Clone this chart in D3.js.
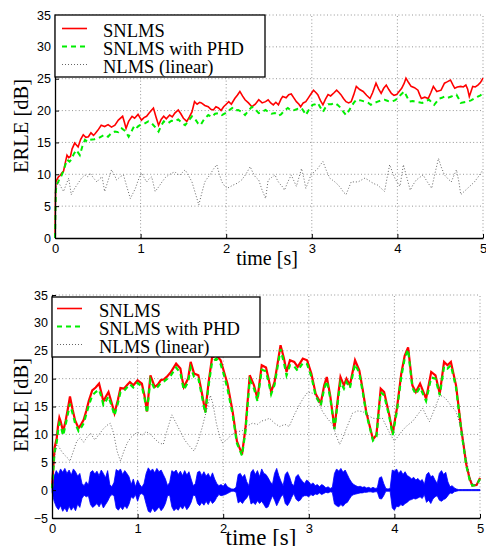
<!DOCTYPE html>
<html><head><meta charset="utf-8">
<script src="https://cdn.jsdelivr.net/npm/d3@7"></script>
<style>
html,body{margin:0;padding:0;background:#fff;}
svg{display:block;}
.tick text{font-family:"Liberation Sans",Arial,sans-serif;}
</style></head>
<body>
<svg id="c" width="486" height="546"></svg>
<script>
// ---------- DATA ----------
const xTicks = [0,1,2,3,4,5];
const yTicksTop = [0,5,10,15,20,25,30,35];
const yTicksBottom = [-5,0,5,10,15,20,25,30,35];
const legendLabels = ["SNLMS","SNLMS with PHD","NLMS (linear)"];
const xLabel = "time [s]";
const yLabel = "ERLE [dB]";

// Top plot: [time s, ERLE dB]
const topSNLMS = [[0,0],[0.005,6],[0.01,8.8],[0.02,9.1],[0.04,9.6],[0.06,9.8],[0.08,10.2],[0.1,10.5],[0.12,11.8],[0.14,13],[0.16,12.6],[0.18,12.8],[0.2,14],[0.23,14.9],[0.25,14.6],[0.27,14.3],[0.3,15.5],[0.33,16.2],[0.36,15.8],[0.39,15.9],[0.42,16.5],[0.45,16.1],[0.47,16.4],[0.5,16.9],[0.54,17.7],[0.58,17.5],[0.62,17.8],[0.66,17.4],[0.7,17.7],[0.74,18.5],[0.79,19.1],[0.81,18.2],[0.83,17.2],[0.86,18.3],[0.9,19.1],[0.93,18.8],[0.97,19.4],[1.01,18.5],[1.04,18.9],[1.07,19.1],[1.1,19.6],[1.13,20.1],[1.15,20.4],[1.18,19.0],[1.21,17.7],[1.24,18.6],[1.27,19.1],[1.3,18.7],[1.34,19.3],[1.37,19.0],[1.4,19.6],[1.44,20.1],[1.47,19.5],[1.5,18.8],[1.54,18.3],[1.57,19.0],[1.6,19.8],[1.63,21.4],[1.66,21.0],[1.69,21.3],[1.71,21.2],[1.75,20.8],[1.79,20.6],[1.82,20.2],[1.85,20.1],[1.88,20.6],[1.91,20.4],[1.94,20.0],[1.97,20.6],[2.0,21.0],[2.03,21.4],[2.06,21.0],[2.1,21.9],[2.13,22.4],[2.16,23],[2.19,22.3],[2.22,21.7],[2.26,21.2],[2.3,20.6],[2.34,21.0],[2.38,21.7],[2.42,21.2],[2.46,21.4],[2.49,21.7],[2.52,21.2],[2.55,20.9],[2.58,21.3],[2.61,20.9],[2.64,21.8],[2.66,22.2],[2.7,22.0],[2.73,22.5],[2.76,22.6],[2.79,22.0],[2.82,21.4],[2.85,21.0],[2.87,20.6],[2.9,21.2],[2.93,21.4],[2.96,22.0],[2.99,22.6],[3.02,23.2],[3.05,22.8],[3.07,22.5],[3.1,21.6],[3.13,20.9],[3.16,21.8],[3.19,22.5],[3.22,22.3],[3.26,22.8],[3.29,23.2],[3.32,22.8],[3.34,22.5],[3.37,21.9],[3.4,21.4],[3.43,21.2],[3.46,21.4],[3.49,22.5],[3.52,23.8],[3.56,23.3],[3.6,23.0],[3.64,22.4],[3.68,21.9],[3.71,22.8],[3.75,24.3],[3.78,23.4],[3.81,22.7],[3.84,23.5],[3.87,24.0],[3.9,23.3],[3.93,22.7],[3.96,22.4],[3.99,22.5],[4.02,23.0],[4.05,23.5],[4.08,24.3],[4.1,25.1],[4.13,24.4],[4.16,23.8],[4.2,23.6],[4.24,23.2],[4.26,22.5],[4.28,21.9],[4.32,22.1],[4.36,21.9],[4.39,22.8],[4.42,23.8],[4.46,23.0],[4.51,23.2],[4.55,24.3],[4.58,24.5],[4.62,24.8],[4.65,24.0],[4.67,23.5],[4.7,23.7],[4.74,23.8],[4.77,23.7],[4.8,24.0],[4.82,23.4],[4.84,22.2],[4.86,23.0],[4.88,23.8],[4.91,23.7],[4.94,24.0],[4.97,24.4],[5.0,25.1]];
const topPHD = [[0,0],[0.01,7.5],[0.02,8.3],[0.05,9.2],[0.08,9.9],[0.11,11.0],[0.14,12.3],[0.17,12.0],[0.19,12.3],[0.22,13.2],[0.25,13.8],[0.29,13.0],[0.32,14.4],[0.35,15.4],[0.38,15.1],[0.41,15.4],[0.46,15.5],[0.51,15.7],[0.55,16.0],[0.58,16.2],[0.62,15.9],[0.66,16.5],[0.7,16.7],[0.74,16.6],[0.78,17.2],[0.82,16.8],[0.86,15.9],[0.9,16.9],[0.93,17.7],[0.96,17.4],[0.99,17.7],[1.04,17.9],[1.09,18.3],[1.13,18.0],[1.17,17.4],[1.21,16.7],[1.24,17.6],[1.27,18.3],[1.32,18.0],[1.36,18.4],[1.4,18.3],[1.44,18.6],[1.48,18.1],[1.52,17.7],[1.56,18.4],[1.6,19.1],[1.64,18.6],[1.67,18.0],[1.7,17.7],[1.74,18.6],[1.79,19.3],[1.83,19.0],[1.87,19.5],[1.91,19.6],[1.95,19.3],[1.99,19.6],[2.03,20.0],[2.07,20.4],[2.1,20.0],[2.14,20.1],[2.18,19.8],[2.22,19.3],[2.26,20.0],[2.3,20.6],[2.34,20.2],[2.38,19.6],[2.42,19.8],[2.46,20.1],[2.49,19.8],[2.53,19.5],[2.57,19.6],[2.61,19.2],[2.64,19.4],[2.68,20.0],[2.72,20.4],[2.76,20.0],[2.8,20.1],[2.84,20.3],[2.88,20.4],[2.91,19.8],[2.93,19.3],[2.97,20.2],[3.01,20.9],[3.04,21.0],[3.07,21.2],[3.1,20.5],[3.13,19.8],[3.16,20.5],[3.19,21.0],[3.23,21.0],[3.27,21.2],[3.3,20.9],[3.34,20.4],[3.37,19.8],[3.4,19.3],[3.43,19.9],[3.46,20.6],[3.49,21.2],[3.52,21.7],[3.57,21.6],[3.62,21.4],[3.66,21.2],[3.69,20.9],[3.73,21.2],[3.77,21.4],[3.81,21.6],[3.85,21.7],[3.89,21.5],[3.93,21.4],[3.97,21.6],[4.0,21.9],[4.04,22.5],[4.08,23.0],[4.11,22.2],[4.14,21.4],[4.18,21.5],[4.21,21.4],[4.25,21.3],[4.29,21.2],[4.33,21.5],[4.37,21.7],[4.4,21.3],[4.43,20.9],[4.46,21.4],[4.49,21.9],[4.52,22.0],[4.55,22.2],[4.59,22.0],[4.63,22.2],[4.66,22.4],[4.69,22.5],[4.72,21.8],[4.74,21.2],[4.78,21.3],[4.82,21.4],[4.86,21.6],[4.9,21.9],[4.94,22.2],[4.97,22.4],[5.0,22.7]];
const topNLMS = [[0,7.0],[0.02,8.2],[0.04,8.8],[0.07,8.0],[0.1,7.3],[0.13,8.4],[0.16,9.4],[0.19,6.8],[0.23,7.8],[0.27,8.6],[0.31,9.4],[0.35,9.9],[0.38,9.6],[0.41,10.2],[0.45,9.4],[0.49,8.8],[0.52,9.3],[0.55,9.6],[0.58,7.3],[0.62,9.0],[0.66,10.7],[0.69,10.0],[0.72,9.1],[0.76,9.6],[0.8,9.9],[0.84,8.0],[0.88,6.2],[0.91,7.0],[0.94,7.8],[0.97,9.0],[1.01,10.2],[1.04,9.5],[1.07,8.8],[1.1,9.3],[1.13,9.6],[1.17,7.3],[1.21,8.0],[1.25,8.8],[1.29,9.5],[1.33,9.9],[1.37,10.2],[1.4,10.4],[1.43,10.0],[1.46,9.9],[1.49,10.3],[1.52,10.7],[1.56,9.8],[1.6,8.8],[1.64,7.0],[1.68,5.2],[1.71,6.8],[1.75,8.8],[1.78,9.4],[1.81,9.9],[1.85,10.8],[1.89,11.5],[1.92,10.0],[1.95,8.8],[1.98,8.2],[2.01,7.8],[2.04,8.0],[2.08,8.3],[2.13,8.6],[2.18,9.1],[2.23,10.0],[2.28,11.2],[2.31,10.3],[2.34,9.6],[2.38,9.1],[2.42,7.5],[2.46,6.2],[2.49,9.1],[2.53,9.5],[2.57,9.9],[2.6,9.0],[2.62,8.6],[2.66,8.0],[2.68,7.5],[2.72,8.8],[2.76,9.9],[2.79,9.0],[2.82,8.1],[2.85,9.5],[2.88,10.9],[2.91,9.2],[2.93,7.8],[2.96,8.8],[2.99,9.9],[3.03,10.4],[3.07,10.9],[3.1,11.5],[3.13,12.0],[3.17,10.6],[3.21,9.4],[3.24,9.1],[3.27,8.8],[3.31,8.3],[3.34,7.8],[3.37,7.2],[3.4,6.8],[3.43,7.8],[3.46,8.8],[3.5,8.8],[3.54,8.8],[3.58,9.1],[3.62,9.4],[3.66,9.1],[3.69,8.8],[3.73,8.5],[3.77,8.3],[3.81,7.8],[3.85,7.3],[3.88,9.5],[3.91,11.5],[3.94,10.4],[3.97,9.4],[4.0,8.7],[4.03,8.1],[4.05,9.8],[4.07,11.5],[4.11,9.5],[4.15,7.5],[4.18,8.3],[4.22,9.1],[4.26,9.5],[4.3,9.9],[4.35,8.8],[4.4,7.8],[4.44,10.2],[4.48,12.5],[4.51,11.2],[4.55,9.9],[4.59,9.3],[4.63,8.8],[4.66,9.8],[4.69,10.7],[4.72,8.7],[4.74,6.8],[4.78,7.3],[4.82,7.8],[4.86,8.3],[4.9,8.8],[4.95,9.7],[5.0,10.7]];

// Bottom plot: [time s, ERLE dB]
const botSNLMS = [[0,0.5],[0.03,7.6],[0.055,9.3],[0.07,11.5],[0.086,13],[0.1,12.4],[0.13,10.5],[0.16,12.5],[0.19,15.0],[0.21,16.8],[0.24,14.5],[0.27,12.5],[0.31,11.1],[0.34,11.8],[0.37,12.6],[0.4,14.2],[0.43,16.0],[0.47,17.9],[0.51,18.4],[0.55,19.1],[0.58,17.3],[0.6,15.9],[0.63,16.8],[0.66,17.6],[0.7,15.5],[0.73,13.8],[0.77,16.2],[0.8,18.3],[0.84,18.2],[0.88,18.9],[0.91,19.4],[0.95,18.8],[1.0,19.7],[1.05,19.1],[1.08,17.0],[1.11,14.1],[1.13,17.5],[1.15,20.6],[1.2,18.5],[1.24,19.0],[1.27,19.7],[1.31,19.9],[1.34,20.3],[1.39,21.2],[1.45,22.7],[1.5,21.8],[1.52,20.0],[1.54,18.5],[1.59,20.0],[1.62,23.0],[1.66,20.9],[1.71,20.6],[1.75,17.5],[1.79,14.1],[1.83,19.4],[1.87,23.8],[1.92,24.2],[1.97,23.3],[2.01,21.2],[2.05,19.1],[2.11,14.1],[2.16,8.8],[2.22,6.4],[2.26,11.1],[2.31,20.6],[2.36,18.8],[2.4,16.4],[2.45,22.4],[2.5,22.0],[2.53,20.0],[2.56,17.6],[2.6,19.4],[2.67,26.0],[2.71,23.6],[2.74,21.2],[2.78,23.3],[2.83,23.0],[2.87,22.1],[2.93,23.6],[2.98,23.3],[3.03,20.9],[3.08,17.3],[3.14,15.6],[3.18,18.8],[3.21,20.3],[3.25,17.0],[3.3,11.1],[3.35,17.9],[3.37,20.3],[3.41,18.8],[3.44,20.0],[3.48,18.8],[3.54,23.3],[3.59,21.5],[3.63,18.0],[3.67,14.1],[3.75,9.1],[3.79,9.9],[3.84,18.2],[3.88,17.6],[3.94,13.5],[3.98,10.2],[4.03,14.7],[4.08,20.9],[4.12,24.1],[4.16,25.6],[4.21,18.8],[4.25,17.6],[4.3,19.1],[4.37,16.4],[4.43,21.2],[4.48,20.6],[4.53,17.3],[4.58,23.0],[4.62,22.4],[4.66,23.0],[4.72,18.8],[4.78,11.1],[4.84,4.6],[4.88,2.0],[4.91,0.8],[4.96,0.9],[5.0,2.2]];
const botPHD = [[0,0.3],[0.03,6.8],[0.055,8.6],[0.07,10.6],[0.086,12.0],[0.1,11.6],[0.13,9.8],[0.16,11.8],[0.19,14.0],[0.21,15.5],[0.24,13.8],[0.27,12.0],[0.31,10.6],[0.34,11.2],[0.37,12.0],[0.4,13.6],[0.43,15.2],[0.47,17.0],[0.51,17.6],[0.55,18.0],[0.58,16.6],[0.6,15.3],[0.63,16.0],[0.66,16.8],[0.7,15.0],[0.73,13.4],[0.77,15.6],[0.8,17.6],[0.84,17.8],[0.88,18.5],[0.91,19.0],[0.95,18.4],[1.0,19.2],[1.05,18.6],[1.08,16.6],[1.11,13.8],[1.13,17.0],[1.15,19.8],[1.2,18.1],[1.24,18.6],[1.27,19.2],[1.31,19.5],[1.34,19.9],[1.39,20.6],[1.45,22.0],[1.5,21.0],[1.52,19.4],[1.54,18.0],[1.59,19.4],[1.62,22.0],[1.66,20.3],[1.71,20.0],[1.75,17.0],[1.79,13.8],[1.83,18.8],[1.87,23.0],[1.92,23.6],[1.97,22.6],[2.01,20.6],[2.05,18.2],[2.11,13.6],[2.16,8.4],[2.22,6.2],[2.26,10.6],[2.31,19.8],[2.36,18.2],[2.4,16.0],[2.45,21.6],[2.5,21.3],[2.53,19.4],[2.56,17.2],[2.6,18.9],[2.67,25.3],[2.71,22.8],[2.74,20.6],[2.78,22.4],[2.83,22.2],[2.87,21.4],[2.93,22.8],[2.98,22.6],[3.03,20.4],[3.08,16.9],[3.14,15.2],[3.18,18.2],[3.21,19.6],[3.25,16.6],[3.3,10.9],[3.35,17.2],[3.37,19.4],[3.41,18.2],[3.44,19.4],[3.48,18.3],[3.54,22.6],[3.59,21.0],[3.63,17.6],[3.67,13.8],[3.75,8.9],[3.79,9.6],[3.84,17.6],[3.88,17.0],[3.94,13.2],[3.98,9.9],[4.03,14.2],[4.08,20.3],[4.12,23.6],[4.16,25.2],[4.21,18.4],[4.25,17.2],[4.3,18.4],[4.37,16.0],[4.43,20.2],[4.48,20.0],[4.53,17.0],[4.58,22.2],[4.62,21.8],[4.66,22.4],[4.72,18.4],[4.78,10.8],[4.84,4.4],[4.88,1.8],[4.91,0.8],[4.96,0.9],[5.0,2.0]];
const botNLMS = [[0,1.0],[0.02,5.0],[0.055,8.2],[0.08,7.8],[0.11,7.0],[0.14,6.4],[0.18,5.8],[0.21,5.2],[0.25,7.0],[0.29,8.8],[0.33,9.4],[0.37,8.6],[0.41,9.5],[0.45,10.2],[0.5,9.0],[0.55,10.0],[0.6,11.0],[0.64,11.6],[0.68,12.0],[0.72,10.2],[0.76,7.0],[0.8,5.2],[0.84,7.0],[0.88,8.5],[0.92,9.4],[0.96,10.0],[1.0,10.4],[1.05,9.8],[1.1,10.5],[1.15,10.0],[1.2,9.2],[1.25,8.5],[1.3,8.2],[1.34,10.5],[1.37,12.0],[1.4,13.5],[1.45,12.0],[1.5,10.5],[1.55,9.0],[1.6,8.0],[1.66,7.0],[1.7,8.5],[1.75,11.0],[1.8,14.0],[1.85,17.0],[1.88,15.5],[1.92,12.0],[1.96,9.5],[1.99,8.5],[2.04,9.0],[2.1,10.0],[2.16,10.5],[2.22,10.6],[2.28,11.5],[2.34,12.0],[2.4,11.8],[2.45,12.4],[2.5,12.6],[2.54,12.9],[2.6,12.0],[2.66,11.4],[2.72,11.8],[2.77,11.4],[2.83,13.5],[2.89,15.3],[2.94,16.6],[2.99,17.6],[3.04,17.4],[3.08,17.0],[3.12,15.5],[3.16,14.1],[3.22,12.8],[3.28,11.7],[3.32,9.8],[3.36,8.2],[3.4,9.5],[3.44,11.1],[3.48,12.6],[3.51,13.8],[3.57,14.2],[3.63,14.1],[3.69,13.4],[3.75,12.9],[3.8,12.8],[3.86,12.9],[3.92,11.0],[3.96,9.8],[4.0,8.8],[4.05,9.8],[4.1,10.8],[4.15,11.6],[4.21,12.3],[4.27,13.5],[4.33,14.7],[4.37,13.4],[4.41,12.3],[4.47,14.6],[4.53,17.0],[4.57,16.8],[4.6,16.4],[4.66,15.2],[4.72,14.1],[4.78,11.1],[4.84,5.5],[4.88,2.4],[4.92,1.0],[4.96,1.0],[5.0,1.8]];

// Speech signal envelope (bottom plot): [time s, upper, lower]
const speech = [[0,0.3,-0.3],[0.025,2.5,-2],[0.05,3.5,-3],[0.075,2.8,-3.5],[0.1,3.8,-2.8],[0.125,3.2,-3.8],[0.15,3.9,-3.2],[0.175,3.0,-3.9],[0.2,3.6,-2.9],[0.225,2.7,-3.6],[0.25,3.8,-3.0],[0.275,3.3,-3.7],[0.3,2.5,-2.5],[0.325,3.0,-3.1],[0.35,1.2,-1.5],[0.375,0.8,-0.9],[0.4,1.5,-1.2],[0.425,0.9,-1.0],[0.45,3.2,-2.6],[0.475,3.5,-3.1],[0.5,2.9,-2.8],[0.525,3.4,-2.4],[0.55,2.6,-3.0],[0.575,3.6,-2.2],[0.6,3.0,-3.2],[0.625,2.2,-2.6],[0.65,3.5,-2.0],[0.675,1.0,-1.2],[0.7,0.6,-0.8],[0.725,1.4,-1.0],[0.75,3.7,-3.2],[0.775,3.4,-3.6],[0.8,3.8,-3.0],[0.825,2.8,-3.5],[0.85,3.5,-2.8],[0.875,3.0,-3.3],[0.9,2.4,-2.5],[0.925,1.0,-1.2],[0.95,2.0,-1.5],[0.975,0.6,-0.8],[1.0,1.8,-2.0],[1.025,1.0,-0.8],[1.05,0.5,-0.6],[1.075,1.2,-1.0],[1.1,3.0,-2.5],[1.125,4.0,-3.8],[1.15,3.4,-4.0],[1.175,3.8,-3.2],[1.2,3.1,-3.9],[1.225,3.9,-3.5],[1.25,3.3,-3.0],[1.275,3.6,-3.7],[1.3,2.8,-3.2],[1.325,2.0,-2.4],[1.35,0.8,-1.0],[1.375,1.4,-0.9],[1.4,3.5,-3.0],[1.425,3.2,-3.7],[1.45,3.6,-3.3],[1.475,2.8,-3.6],[1.5,3.4,-2.9],[1.525,2.6,-3.4],[1.55,3.5,-2.7],[1.575,2.7,-3.5],[1.6,3.3,-3.0],[1.625,2.0,-2.2],[1.65,0.8,-0.9],[1.675,1.2,-1.0],[1.7,3.2,-2.4],[1.725,3.4,-2.8],[1.75,2.6,-2.2],[1.775,3.3,-2.7],[1.8,2.5,-2.0],[1.825,3.0,-2.6],[1.85,2.2,-1.8],[1.875,3.1,-2.4],[1.9,2.0,-2.0],[1.925,1.2,-1.3],[1.95,0.8,-0.8],[1.975,1.0,-1.0],[2.0,0.7,-0.9],[2.025,1.2,-0.8],[2.05,0.6,-0.6],[2.075,0.4,-0.4],[2.1,0.2,-0.2],[2.125,0.2,-0.2],[2.15,0.5,-0.4],[2.175,2.8,-2.3],[2.2,3.0,-2.0],[2.225,2.3,-2.4],[2.25,2.8,-1.8],[2.275,1.5,-1.4],[2.3,0.8,-0.7],[2.325,3.2,-2.5],[2.35,3.7,-2.2],[2.375,2.8,-2.6],[2.4,3.5,-1.9],[2.425,2.4,-2.4],[2.45,3.8,-2.0],[2.475,3.0,-2.6],[2.5,2.8,-3.2],[2.525,2.2,-3.0],[2.55,1.5,-2.0],[2.575,1.0,-1.0],[2.6,3.0,-1.8],[2.625,3.9,-2.8],[2.65,2.6,-2.0],[2.675,1.6,-1.2],[2.7,0.8,-0.8],[2.725,2.8,-2.4],[2.75,3.3,-2.8],[2.775,2.4,-2.2],[2.8,1.2,-1.3],[2.825,0.8,-0.6],[2.85,2.4,-1.6],[2.875,2.8,-2.0],[2.9,2.1,-1.8],[2.925,1.6,-1.2],[2.95,1.2,-1.0],[2.975,1.8,-1.0],[3.0,1.5,-1.2],[3.025,1.0,-0.8],[3.05,1.3,-1.0],[3.075,0.8,-0.7],[3.1,1.0,-0.8],[3.125,0.6,-0.5],[3.15,1.0,-0.8],[3.175,0.8,-0.6],[3.2,0.4,-0.4],[3.225,0.6,-0.5],[3.25,0.3,-0.3],[3.275,0.5,-0.4],[3.3,3.0,-2.5],[3.325,3.8,-2.8],[3.35,3.4,-3.0],[3.375,3.9,-2.6],[3.4,3.2,-2.9],[3.425,3.6,-2.4],[3.45,2.8,-2.2],[3.475,2.0,-1.6],[3.5,1.4,-1.0],[3.525,1.0,-0.8],[3.55,0.8,-0.7],[3.575,0.6,-0.6],[3.6,0.7,-0.5],[3.625,0.5,-0.5],[3.65,0.6,-0.4],[3.675,0.4,-0.4],[3.7,0.5,-0.3],[3.725,0.3,-0.3],[3.75,0.5,-0.4],[3.775,0.3,-0.3],[3.8,0.4,-0.3],[3.825,2.2,-1.5],[3.85,2.4,-1.6],[3.875,1.2,-1.0],[3.9,0.3,-0.2],[3.925,0.2,-0.2],[3.95,0.3,-0.2],[3.975,3.6,-3.2],[4.0,3.4,-3.6],[4.025,3.8,-2.9],[4.05,3.0,-3.0],[4.075,3.5,-2.6],[4.1,2.8,-2.8],[4.125,3.3,-2.4],[4.15,2.6,-2.2],[4.175,2.4,-1.8],[4.2,2.0,-1.7],[4.225,2.3,-1.5],[4.25,1.8,-1.6],[4.275,2.1,-1.4],[4.3,1.6,-1.2],[4.325,1.9,-1.5],[4.35,1.0,-0.8],[4.375,2.8,-2.2],[4.4,3.2,-1.8],[4.425,2.4,-2.4],[4.45,2.6,-1.6],[4.475,1.8,-1.2],[4.5,1.2,-1.0],[4.525,3.0,-1.8],[4.55,3.5,-2.0],[4.575,2.8,-1.7],[4.6,3.2,-1.5],[4.625,1.5,-1.0],[4.65,0.6,-0.5],[4.675,0.8,-0.6],[4.7,0.4,-0.3],[4.725,0.2,-0.2],[4.75,0.1,-0.1],[4.8,0.1,-0.1],[4.9,0.1,-0.1],[5.0,0.1,-0.1]];

// ---------- DRAWING ----------
const svg = d3.select("#c");
const SERIF = '"Liberation Serif","Times New Roman",serif';
const SANS = '"Liberation Sans",Arial,sans-serif';
const COLORS = {snlms:"#ff0000", phd:"#00ee00", nlms:"#555", speech:"#0000ff"};

function panel(cfg){
  const g = svg.append("g");
  const x = d3.scaleLinear().domain([0,5]).range([cfg.x0, cfg.x1]);
  const y = d3.scaleLinear().domain(cfg.ydom).range([cfg.yb, cfg.yt]);
  // grid
  g.append("g").selectAll("line").data(xTicks.filter(d=>d>0)).join("line")
    .attr("x1",d=>x(d)).attr("x2",d=>x(d)).attr("y1",cfg.yb).attr("y2",cfg.yt)
    .attr("stroke","#8a8a8a").attr("stroke-width",0.9).attr("stroke-dasharray","1,2.4");
  g.append("g").selectAll("line").data(cfg.yticks.slice(1)).join("line")
    .attr("x1",cfg.x0).attr("x2",cfg.x1).attr("y1",d=>y(d)).attr("y2",d=>y(d))
    .attr("stroke","#8a8a8a").attr("stroke-width",0.9).attr("stroke-dasharray","1,2.4");

  const line = d3.line().x(d=>x(d[0])).y(d=>y(d[1]));
  if (cfg.speech){
    const area = d3.area().x(d=>x(d[0])).y0(d=>y(d[2])).y1(d=>y(d[1]));
    g.append("path").attr("d",area(cfg.speech)).attr("fill",COLORS.speech)
      .attr("stroke",COLORS.speech).attr("stroke-width",0.8);
  }
  g.append("path").attr("d",line(cfg.s1)).attr("fill","none").attr("stroke",COLORS.snlms).attr("stroke-width",cfg.w1);
  g.append("path").attr("d",line(cfg.s2)).attr("fill","none").attr("stroke",COLORS.phd).attr("stroke-width",cfg.w2).attr("stroke-dasharray","5,4");
  g.append("path").attr("d",line(cfg.s3)).attr("fill","none").attr("stroke",COLORS.nlms).attr("stroke-width",0.9).attr("stroke-dasharray","1,2");

  // axes
  const ax = g.append("g").attr("transform",`translate(0,${cfg.yb})`)
    .call(d3.axisBottom(x).tickValues(xTicks).tickFormat(d3.format("d")).tickSize(-4).tickPadding(6).tickSizeOuter(0));
  ax.selectAll("text").attr("font-size",13).attr("font-family",SANS).attr("fill","#000");
  const ay = g.append("g").attr("transform",`translate(${cfg.x0},0)`)
    .call(d3.axisLeft(y).tickValues(cfg.yticks).tickFormat(d3.format("d")).tickSize(-4).tickPadding(4).tickSizeOuter(0));
  ay.selectAll("text").attr("font-size",12.5).attr("font-family",SANS).attr("fill","#000");
  [ax,ay].forEach(a=>{a.select(".domain").attr("stroke","#000").attr("stroke-width",1.3);
    a.selectAll(".tick line").attr("stroke","#000");});

  // axis labels
  g.append("text").attr("x",cfg.xlx).attr("y",cfg.xly).attr("text-anchor","middle")
    .attr("font-family",SERIF).attr("font-size",cfg.xlfs).text(xLabel);
  g.append("text").attr("transform",`translate(${cfg.ylx},${cfg.yly}) rotate(-90)`).attr("text-anchor","middle")
    .attr("font-family",SERIF).attr("font-size",20.5).text(yLabel);

  // legend
  const L = cfg.leg;
  g.append("rect").attr("x",L.x).attr("y",L.y).attr("width",L.w).attr("height",L.h)
    .attr("fill","#fff").attr("stroke","#000").attr("stroke-width",1.3);
  const styles = [
    {c:COLORS.snlms,w:1.6,da:null},
    {c:COLORS.phd,w:2,da:"5,4"},
    {c:COLORS.nlms,w:0.9,da:"1,2"}];
  legendLabels.forEach((lab,i)=>{
    const ly = L.ly[i];
    g.append("line").attr("x1",L.lx0).attr("x2",L.lx1).attr("y1",ly).attr("y2",ly)
      .attr("stroke",styles[i].c).attr("stroke-width",styles[i].w).attr("stroke-dasharray",styles[i].da);
    g.append("text").attr("x",L.tx).attr("y",ly+8.5).attr("font-family",SERIF).attr("font-size",18.5).text(lab);
  });
}

panel({x0:55,x1:483,yb:238,yt:15,ydom:[0,35],yticks:yTicksTop,
  s1:topSNLMS,s2:topPHD,s3:topNLMS,w1:1.6,w2:2,
  xlx:267,xly:265,xlfs:20,ylx:28,yly:126,
  leg:{x:55,y:15,w:210,h:62,lx0:62,lx1:87,tx:103,ly:[28.5,46.5,64.5]}});
panel({x0:52,x1:480,yb:518,yt:295,ydom:[-5,35],yticks:yTicksBottom,
  s1:botSNLMS,s2:botPHD,s3:botNLMS,speech:speech,w1:2.2,w2:2.2,
  xlx:261,xly:545,xlfs:23,ylx:28,yly:405,
  leg:{x:52,y:297,w:208,h:60,lx0:57,lx1:82,tx:99,ly:[308.5,326.5,344.5]}});
</script>
</body></html>
